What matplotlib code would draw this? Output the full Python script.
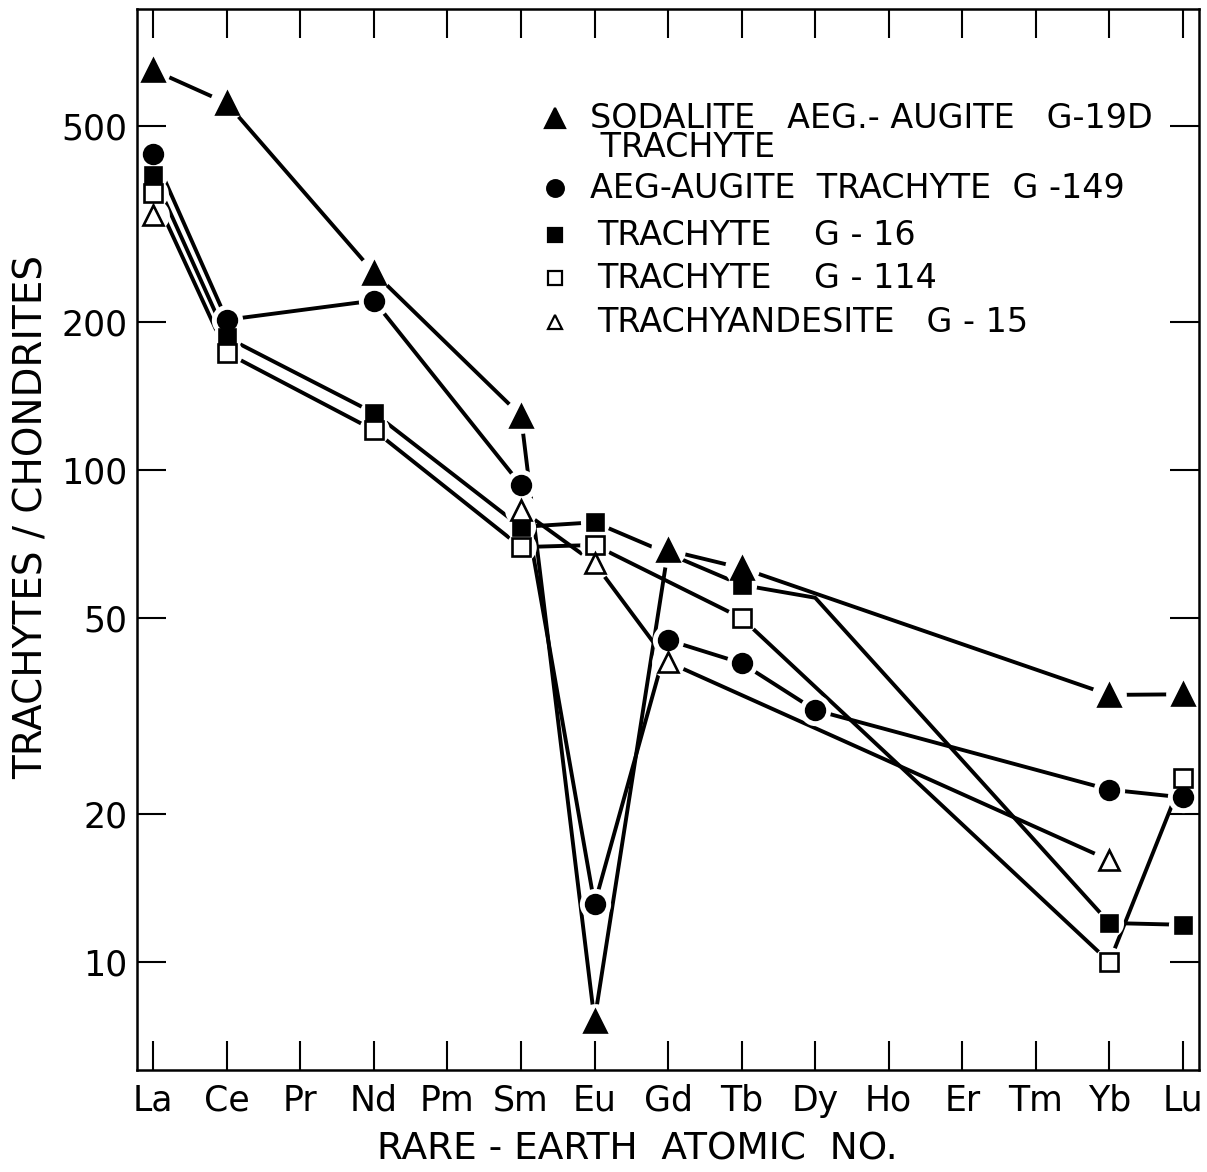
import numpy as np
import matplotlib
matplotlib.use("Agg")
import matplotlib.pyplot as plt

plt.rcParams['font.family'] = ['DejaVu Sans']

# Rare-earth elements along the x axis (atomic numbers 57..71)
elements = ['La', 'Ce', 'Pr', 'Nd', 'Pm', 'Sm', 'Eu', 'Gd', 'Tb', 'Dy', 'Ho', 'Er', 'Tm', 'Yb', 'Lu']
atomic_no = [57, 58, 59, 60, 61, 62, 63, 64, 65, 66, 67, 68, 69, 70, 71]

nan = np.nan
# Chondrite-normalised abundances for each sample
g19d = [650, 557, nan, 252, nan, 129, 7.6, 68.7, 63.2, nan, nan, nan, nan, 34.9, 35.0]
g149 = [439, 202, nan, 221, nan, 93.2, 13.1, 45.1, 40.5, 32.5, nan, nan, nan, 22.4, 21.6]
g16 = [398, 186, nan, 130.6, nan, 76.6, 78.3, nan, 58.4, 55.0, nan, nan, nan, 12.0, 11.9]
g114 = [365, 173, nan, 120.5, nan, 69.7, 70.4, nan, 50.0, nan, nan, nan, nan, 10.0, 23.7]
g15 = [330, nan, nan, nan, nan, 83.0, 64.7, 40.7, nan, nan, nan, nan, nan, 16.1, nan]

y_ticks = [10, 20, 50, 100, 200, 500]

legend_labels = [
    'SODALITE   AEG.- AUGITE   G-19D\n TRACHYTE',
    'AEG-AUGITE  TRACHYTE  G -149',
    'TRACHYTE    G - 16',
    'TRACHYTE    G - 114',
    'TRACHYANDESITE   G - 15',
]

# (values, marker, face, size, first connected element, elements without marker)
series = [
    (g19d, '^', 'black', 16, 'La', []),
    (g149, 'o', 'black', 13.5, 'La', []),
    (g16, 's', 'black', 12, 'La', ['Dy']),
    (g114, 's', 'white', 13, 'La', []),
    (g15, '^', 'white', 14.5, 'Sm', []),
]

fig = plt.figure(figsize=(12.07, 11.72), dpi=100)
ax = fig.add_axes([0.1135, 0.0870, 0.880, 0.9053])
ax.set_yscale('log')
ax.set_xlim(56.78, 71.22)
ax.set_ylim(6.03, 865)

x_all = np.array(atomic_no, dtype=float)
for vals, mk, face, ms, start, unmarked in series:
    v = np.array(vals, dtype=float)
    ok = ~np.isnan(v)
    # connecting line
    conn = ok & (x_all >= atomic_no[elements.index(start)])
    ax.plot(x_all[conn], v[conn], color='black', lw=2.8, solid_capstyle='butt', zorder=2)
    # plotted points, each with a white clearance ring so lines stop short of it
    marked = ok & np.array([e not in unmarked for e in elements])
    ax.plot(x_all[marked], v[marked], ls='none', marker='o', ms=ms + 9,
            mfc='white', mec='none', zorder=3)
    ax.plot(x_all[marked], v[marked], ls='none', marker=mk, ms=ms,
            mfc=face, mec='black', mew=1.9, zorder=4)

ax.set_xticks(atomic_no)
ax.set_xticklabels(elements)
ax.set_yticks(y_ticks)
ax.set_yticklabels([str(t) for t in y_ticks])
ax.yaxis.set_minor_locator(matplotlib.ticker.NullLocator())
ax.tick_params(axis='both', which='major', direction='in', length=21, width=1.5,
               top=True, right=True, colors='black')
ax.tick_params(axis='x', labelsize=25, pad=10)
ax.tick_params(axis='y', labelsize=25, pad=7)
for sp in ax.spines.values():
    sp.set_linewidth(1.8)
    sp.set_zorder(6)

fig.text(0.528, 0.019, 'RARE - EARTH  ATOMIC  NO.', ha='center', va='center', fontsize=27)
fig.text(0.026, 0.559, 'TRACHYTES / CHONDRITES', ha='center', va='center',
         rotation=90, fontsize=28)

# Key
def ax_frac(px, py):
    return (px - 137) / 1062, (1070 - py) / 1061

key_markers = [('^', 'black', 15), ('o', 'black', 12), ('s', 'black', 10),
               ('s', 'white', 10), ('^', 'white', 10)]
key_rows = [118, 188, 235, 278, 322]
key_text_x = [590, 590, 597, 597, 597]
for (mk, face, ms), py, tx, lab in zip(key_markers, key_rows, key_text_x, legend_labels):
    mx, my = ax_frac(555, py)
    ax.plot([mx], [my], transform=ax.transAxes, marker=mk, ms=ms, mfc=face,
            mec='black', mew=1.6, ls='none', zorder=5, clip_on=False)
    txx, tyy = ax_frac(tx, py)
    if '\n' in lab:
        ax.text(txx, ax_frac(tx, py - 16)[1], lab, transform=ax.transAxes, ha='left',
                va='top', fontsize=24, linespacing=0.85)
    else:
        ax.text(txx, tyy, lab, transform=ax.transAxes, ha='left', va='center', fontsize=24)

fig.savefig('out.png', dpi=100)
